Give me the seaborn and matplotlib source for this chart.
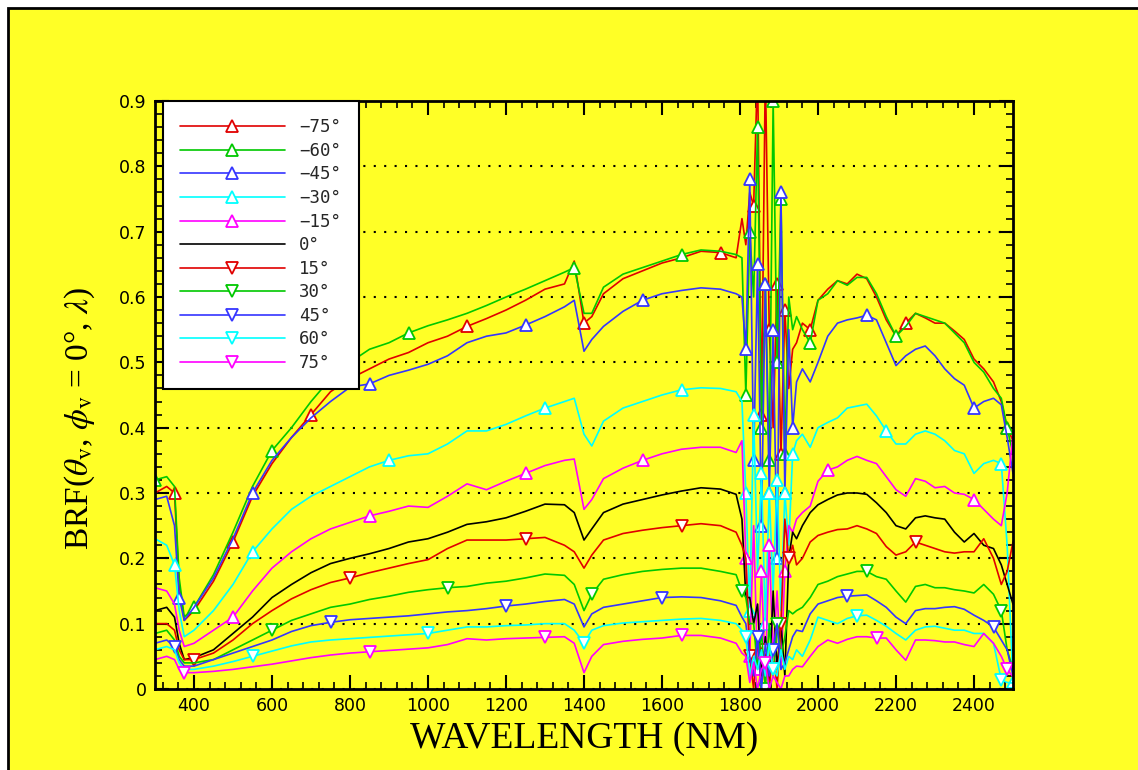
import matplotlib
matplotlib.use("Agg")
import matplotlib.pyplot as plt
from matplotlib.patches import Rectangle
from matplotlib.ticker import MultipleLocator, FuncFormatter
import seaborn as sns
import pandas as pd

# Wavelength samples (nm)
wavelength = [300, 330, 350, 362, 375, 400, 450, 500, 550, 600, 650, 700, 750, 800, 850,
              900, 950, 1000, 1050, 1100, 1150, 1200, 1250, 1300, 1350, 1375, 1400, 1420,
              1450, 1500, 1550, 1600, 1650, 1700, 1750, 1790,
              1805, 1815, 1825, 1835, 1845, 1855, 1865, 1875, 1885, 1895, 1905, 1915, 1925,
              1935, 1945,
              1960, 1980, 2000, 2025, 2050, 2075, 2100, 2125, 2150, 2175, 2200, 2225, 2250,
              2275, 2300, 2325, 2350, 2375, 2400, 2425, 2450, 2470, 2485, 2500]

brf_m75 = [0.30, 0.31, 0.30, 0.16, 0.105, 0.12, 0.165, 0.225, 0.295, 0.345, 0.385, 0.42, 0.455, 0.475, 0.49,
           0.505, 0.515, 0.53, 0.54, 0.555, 0.567, 0.58, 0.595, 0.612, 0.62, 0.655, 0.56, 0.57,
           0.605, 0.628, 0.64, 0.652, 0.66, 0.67, 0.668, 0.66,
           0.72, 0.68, 0.76, 0.74, 0.95, 0.42, 0.95, 0.55, 0.40, 0.62, 0.36, 0.58, 0.46, 0.52, 0.53,
           0.56, 0.55, 0.595, 0.612, 0.625, 0.62, 0.635, 0.628, 0.60, 0.565, 0.54, 0.56, 0.575,
           0.568, 0.56, 0.56, 0.548, 0.535, 0.505, 0.49, 0.47, 0.44, 0.40, 0.38]
brf_m60 = [0.32, 0.325, 0.31, 0.17, 0.11, 0.125, 0.175, 0.24, 0.31, 0.365, 0.40, 0.44, 0.475, 0.50, 0.52,
           0.53, 0.545, 0.556, 0.565, 0.575, 0.587, 0.60, 0.612, 0.625, 0.638, 0.645, 0.575, 0.575,
           0.615, 0.635, 0.645, 0.655, 0.665, 0.672, 0.67, 0.665,
           0.66, 0.45, 0.70, 0.60, 0.86, 0.40, 0.62, 0.35, 0.90, 0.50, 0.75, 0.36, 0.60, 0.55, 0.57,
           0.55, 0.53, 0.595, 0.605, 0.625, 0.618, 0.63, 0.63, 0.605, 0.57, 0.54, 0.555, 0.575,
           0.57, 0.565, 0.56, 0.545, 0.53, 0.50, 0.485, 0.46, 0.445, 0.40, 0.36]
brf_m45 = [0.29, 0.295, 0.25, 0.14, 0.105, 0.125, 0.17, 0.23, 0.30, 0.35, 0.385, 0.415, 0.44, 0.462, 0.467,
           0.48, 0.488, 0.497, 0.51, 0.53, 0.54, 0.545, 0.557, 0.57, 0.585, 0.595, 0.517, 0.535,
           0.555, 0.578, 0.595, 0.605, 0.61, 0.614, 0.612, 0.605,
           0.60, 0.52, 0.78, 0.35, 0.65, 0.25, 0.62, 0.30, 0.55, 0.20, 0.76, 0.30, 0.55, 0.40, 0.47,
           0.49, 0.47, 0.50, 0.54, 0.56, 0.565, 0.568, 0.572, 0.565, 0.53, 0.495, 0.51, 0.52,
           0.525, 0.51, 0.49, 0.475, 0.465, 0.43, 0.44, 0.445, 0.435, 0.385, 0.33]
brf_m30 = [0.23, 0.22, 0.19, 0.12, 0.08, 0.09, 0.12, 0.16, 0.21, 0.245, 0.275, 0.295, 0.31, 0.325, 0.34,
           0.35, 0.357, 0.36, 0.375, 0.395, 0.395, 0.405, 0.418, 0.43, 0.44, 0.445, 0.39, 0.372,
           0.41, 0.43, 0.44, 0.45, 0.458, 0.461, 0.46, 0.455,
           0.44, 0.30, 0.12, 0.42, 0.18, 0.33, 0.10, 0.30, 0.15, 0.32, 0.12, 0.30, 0.22, 0.36, 0.38,
           0.39, 0.37, 0.40, 0.408, 0.415, 0.43, 0.433, 0.436, 0.418, 0.395, 0.375, 0.375, 0.39,
           0.395, 0.39, 0.38, 0.365, 0.36, 0.33, 0.345, 0.35, 0.345, 0.22, 0.01]
brf_m15 = [0.155, 0.15, 0.13, 0.09, 0.065, 0.07, 0.09, 0.11, 0.15, 0.185, 0.21, 0.23, 0.245, 0.255, 0.265,
           0.272, 0.28, 0.278, 0.295, 0.314, 0.305, 0.318, 0.33, 0.342, 0.35, 0.352, 0.275, 0.29,
           0.322, 0.338, 0.35, 0.36, 0.367, 0.37, 0.37, 0.362,
           0.38, 0.20, 0.05, 0.25, 0.03, 0.18, 0.02, 0.22, 0.05, 0.15, 0.03, 0.18, 0.25, 0.24, 0.26,
           0.27, 0.28, 0.318, 0.335, 0.34, 0.35, 0.356, 0.35, 0.345, 0.325, 0.305, 0.295, 0.322,
           0.318, 0.308, 0.31, 0.30, 0.298, 0.29, 0.275, 0.26, 0.25, 0.30, 0.39]
brf_0 = [0.12, 0.125, 0.11, 0.07, 0.045, 0.048, 0.06, 0.085, 0.11, 0.14, 0.16, 0.178, 0.192, 0.20, 0.207,
         0.215, 0.225, 0.23, 0.24, 0.252, 0.256, 0.262, 0.272, 0.283, 0.282, 0.27, 0.228, 0.245,
         0.27, 0.283, 0.29, 0.297, 0.303, 0.308, 0.306, 0.298,
         0.26, 0.14, 0.14, 0.10, 0.13, 0.02, 0.08, 0.01, 0.15, 0.03, 0.10, 0.02, 0.20, 0.24, 0.23,
         0.25, 0.27, 0.282, 0.29, 0.297, 0.30, 0.30, 0.298, 0.285, 0.27, 0.25, 0.245, 0.262,
         0.265, 0.262, 0.26, 0.24, 0.225, 0.238, 0.22, 0.215, 0.19, 0.16, 0.13]
brf_p15 = [0.10, 0.10, 0.09, 0.06, 0.045, 0.045, 0.055, 0.075, 0.10, 0.12, 0.138, 0.152, 0.163, 0.17, 0.178,
           0.185, 0.192, 0.198, 0.215, 0.228, 0.228, 0.228, 0.23, 0.232, 0.22, 0.21, 0.185, 0.205,
           0.228, 0.238, 0.243, 0.247, 0.25, 0.253, 0.25, 0.24,
           0.22, 0.20, 0.05, 0.00, 0.08, 0.00, 0.06, 0.00, 0.07, 0.00, 0.10, 0.26, 0.20, 0.22, 0.19,
           0.20, 0.225, 0.235, 0.24, 0.244, 0.245, 0.25, 0.245, 0.238, 0.218, 0.205, 0.21, 0.225,
           0.22, 0.215, 0.21, 0.208, 0.21, 0.21, 0.23, 0.20, 0.16, 0.18, 0.225]
brf_p30 = [0.085, 0.09, 0.075, 0.05, 0.04, 0.04, 0.045, 0.06, 0.075, 0.09, 0.105, 0.115, 0.125, 0.13, 0.137,
           0.142, 0.148, 0.152, 0.155, 0.157, 0.162, 0.165, 0.17, 0.176, 0.174, 0.16, 0.12, 0.145,
           0.168, 0.175, 0.18, 0.183, 0.185, 0.185, 0.18, 0.175,
           0.15, 0.14, 0.10, 0.10, 0.03, 0.09, 0.00, 0.10, 0.02, 0.10, 0.05, 0.08, 0.12, 0.115, 0.12,
           0.125, 0.14, 0.16, 0.165, 0.172, 0.176, 0.18, 0.18, 0.172, 0.168, 0.15, 0.133, 0.157,
           0.16, 0.155, 0.155, 0.152, 0.15, 0.147, 0.16, 0.145, 0.12, 0.06, 0.03]
brf_p45 = [0.07, 0.075, 0.065, 0.045, 0.035, 0.035, 0.045, 0.055, 0.065, 0.075, 0.088, 0.097, 0.102, 0.106, 0.108,
           0.11, 0.112, 0.115, 0.118, 0.12, 0.123, 0.127, 0.13, 0.134, 0.137, 0.13, 0.095, 0.115,
           0.125, 0.13, 0.135, 0.14, 0.141, 0.14, 0.135, 0.128,
           0.11, 0.10, 0.05, 0.02, 0.08, 0.00, 0.07, 0.02, 0.06, 0.10, 0.03, 0.04, 0.06, 0.08, 0.09,
           0.088, 0.115, 0.13, 0.135, 0.14, 0.142, 0.143, 0.144, 0.135, 0.125, 0.11, 0.10, 0.12,
           0.123, 0.123, 0.125, 0.126, 0.122, 0.113, 0.105, 0.095, 0.075, 0.06, 0.02]
brf_p60 = [0.06, 0.065, 0.06, 0.04, 0.03, 0.03, 0.035, 0.042, 0.05, 0.058, 0.066, 0.072, 0.075, 0.077, 0.079,
           0.081, 0.083, 0.085, 0.09, 0.095, 0.095, 0.097, 0.098, 0.10, 0.10, 0.09, 0.07, 0.09,
           0.097, 0.101, 0.103, 0.105, 0.107, 0.108, 0.105, 0.10,
           0.09, 0.08, 0.02, 0.05, 0.03, 0.06, 0.02, 0.07, 0.03, 0.02, 0.06, 0.03, 0.05, 0.045, 0.06,
           0.05, 0.075, 0.11, 0.105, 0.10, 0.108, 0.112, 0.113, 0.105, 0.096, 0.085, 0.075, 0.09,
           0.095, 0.096, 0.093, 0.09, 0.09, 0.085, 0.085, 0.07, 0.014, 0.01, 0.009]
brf_p75 = [0.045, 0.05, 0.045, 0.03, 0.025, 0.025, 0.027, 0.03, 0.034, 0.038, 0.043, 0.048, 0.052, 0.055, 0.057,
           0.059, 0.061, 0.063, 0.068, 0.077, 0.075, 0.077, 0.078, 0.079, 0.08, 0.07, 0.025, 0.05,
           0.068, 0.073, 0.076, 0.078, 0.082, 0.082, 0.078, 0.07,
           0.055, 0.05, 0.01, 0.04, 0.00, 0.03, 0.04, 0.00, 0.02, 0.01, 0.00, 0.02, 0.02, 0.03, 0.035,
           0.034, 0.05, 0.065, 0.075, 0.07, 0.076, 0.08, 0.08, 0.078, 0.078, 0.06, 0.044, 0.075,
           0.075, 0.074, 0.072, 0.072, 0.068, 0.065, 0.085, 0.07, 0.05, 0.03, 0.019]

angle_labels = ["\u221275\u00b0", "\u221260\u00b0", "\u221245\u00b0", "\u221230\u00b0", "\u221215\u00b0",
                "0\u00b0", "15\u00b0", "30\u00b0", "45\u00b0", "60\u00b0", "75\u00b0"]
series = [brf_m75, brf_m60, brf_m45, brf_m30, brf_m15, brf_0,
          brf_p15, brf_p30, brf_p45, brf_p60, brf_p75]

colors = ["#e00000", "#00c800", "#3535ff", "#00ffff", "#ff00ff", "#000000",
          "#e00000", "#00c800", "#3535ff", "#00ffff", "#ff00ff"]
markers = ["^", "^", "^", "^", "^", None, "v", "v", "v", "v", "v"]
mark_start = [0.05, 0.0, 0.09, 0.03, 0.12, 0.0, 0.07, 0.14, 0.02, 0.10, 0.04]

x_ticks = [400, 600, 800, 1000, 1200, 1400, 1600, 1800, 2000, 2200, 2400]

YELLOW = "#ffff26"

sns.set_theme(style="ticks")
plt.rcParams["font.family"] = ["DejaVu Sans"]
plt.rcParams["mathtext.fontset"] = "stix"

fig = plt.figure(figsize=(11.38, 7.70), dpi=100)
fig.patch.set_facecolor("white")
# yellow page with a black edge along its top and left sides
fig.patches.append(Rectangle((8 / 1138, -0.2), 1.2, 1.2 - 8 / 770, transform=fig.transFigure,
                             facecolor=YELLOW, edgecolor="black", linewidth=2, zorder=-10))

ax = fig.add_axes([155 / 1138, 1 - 689 / 770, (1013 - 155) / 1138, (689 - 101) / 770])
ax.set_zorder(5)
ax.set_facecolor(YELLOW)

for lab, vals, col, mk, ms0 in zip(angle_labels, series, colors, markers, mark_start):
    df = pd.DataFrame({"wavelength": wavelength, "brf": vals})
    kw = dict(color=col, linewidth=1.2, label=lab)
    if mk is not None:
        kw.update(marker=mk, markersize=8, markerfacecolor="white", markeredgecolor=col,
                  markeredgewidth=1.3, markevery=(ms0, 0.17))
    sns.lineplot(data=df, x="wavelength", y="brf", ax=ax, sort=False, estimator=None,
                 legend=False, **kw)

ax.set_xlim(300, 2500)
ax.set_ylim(0, 0.9)
ax.set_xticks(x_ticks)
ax.xaxis.set_minor_locator(MultipleLocator(40))
ax.yaxis.set_major_locator(MultipleLocator(0.1))
ax.yaxis.set_minor_locator(MultipleLocator(0.02))
ax.yaxis.set_major_formatter(FuncFormatter(lambda v, p: "0" if abs(v) < 1e-9 else f"{v:.1f}"))

ax.tick_params(which="both", direction="in", top=True, right=True, colors="black",
               labelsize=12.5, labelcolor="black")
ax.tick_params(which="major", length=10, width=1.5, pad=6)
ax.tick_params(which="minor", length=5, width=1.2)
for sp in ax.spines.values():
    sp.set_linewidth(2)
    sp.set_color("black")

ax.yaxis.grid(True, which="major", color="black", linestyle=(0, (1, 4)), linewidth=1.5)
ax.xaxis.grid(False)

ax.set_xlabel("WAVELENGTH (NM)", fontfamily="Liberation Serif", fontsize=27, labelpad=4,
              color="black")
ax.set_ylabel(r"BRF($\theta_{\rm v}$, $\phi_{\rm v}$ = 0°, $\lambda$)",
              fontfamily="Liberation Serif", fontsize=24, color="black")
ax.yaxis.set_label_coords(-0.068, 0.46)

leg = ax.legend(loc="upper left", bbox_to_anchor=(8 / 858, 1.0), borderaxespad=0,
                numpoints=1, handlelength=6.0, handletextpad=0.85, labelspacing=0.32,
                borderpad=1.0, fancybox=False, framealpha=1, edgecolor="black",
                prop={"family": "DejaVu Sans Mono", "size": 12.5})
leg.get_frame().set_linewidth(1.5)

fig.savefig("out.png", dpi=100, facecolor=fig.get_facecolor())
